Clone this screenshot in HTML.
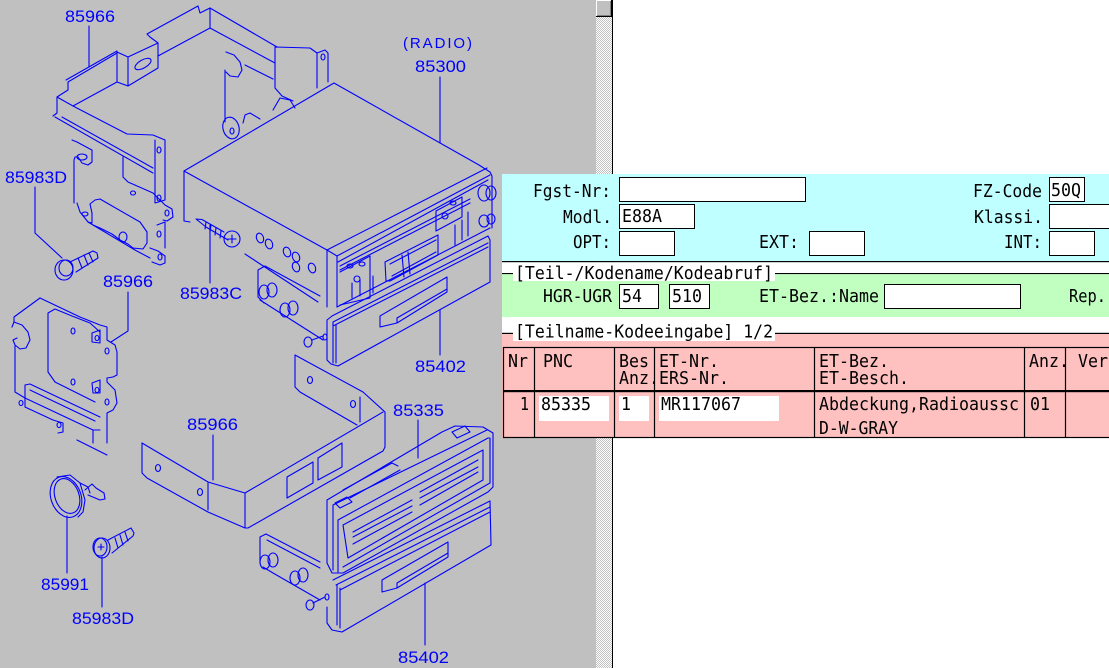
<!DOCTYPE html>
<html><head><meta charset="utf-8"><style>
html,body{margin:0;padding:0;background:#fff;}
body{width:1109px;height:668px;overflow:hidden;}
svg{display:block;}
.ft{font-family:"DejaVu Sans Mono","Liberation Mono",monospace;font-size:18px;fill:#000;}
.lb{font-family:"Liberation Sans",sans-serif;font-size:17px;fill:#00f;}
</style></head><body>
<svg width="1109" height="668" viewBox="0 0 1109 668" xmlns="http://www.w3.org/2000/svg">
<defs>
<pattern id="dith" width="2" height="2" patternUnits="userSpaceOnUse">
<rect width="2" height="2" fill="#fff"/><rect width="1" height="1" fill="#c0c0c0"/><rect x="1" y="1" width="1" height="1" fill="#c0c0c0"/>
</pattern>
</defs>
<rect x="0" y="0" width="1109" height="668" fill="#fff"/>
<rect x="0" y="0" width="596" height="668" fill="#c0c0c0"/>

<!-- DIAGRAM -->
<g fill="none" stroke="#00f" stroke-width="1.1" stroke-linejoin="round" stroke-linecap="round">
<!-- leaders -->
<path d="M89,26 L89,67"/>
<path d="M35,187 L35,233 L62,258"/>
<path d="M128,292 L128,331 L111,342"/>
<path d="M210,225 L210,283"/>
<path d="M440,310 L440,355"/>
<path d="M440,77 L440,143"/>
<path d="M213,435 L213,480"/>
<path d="M418,420 L418,458"/>
<path d="M425,583 L425,645"/>
<path d="M67,516 L67,573"/>
<path d="M102,557 L102,607"/>

<!-- top bracket 85966 -->
<path d="M53,116 L57,113 L57,97 L68,90 L68,82 L117,53"/>
<path d="M66,80 L117,51"/>
<path d="M57,97 L73,106 L117,82"/>
<path d="M117,52 L128,57 L158,43 M128,57 L128,86 M117,52 L117,82 L128,86 L158,68 L158,43 L150,37 L147,34 L198,6 L200,13 L210,8"/>
<ellipse cx="143" cy="64" rx="9" ry="4" transform="rotate(-30 143 64)"/>
<path d="M158,56 L210,28 M210,8 L210,28 M210,8 L277,47 M210,28 L275,63"/>
<path d="M55,117 L153,173 M62,117 L153,168"/>
<path d="M73,106 L127,134 L153,135 L165,140 M155,140 L155,203 L165,200 L165,140"/>
<ellipse cx="159" cy="150" rx="2" ry="3"/><ellipse cx="159" cy="198" rx="2" ry="3"/>
<path d="M72,140 L77,142 L90,149 L92,150 L92,162 L88,165 L82,163 L78,157 L75,157 L74,160 M74,160 L74,203"/>
<ellipse cx="82" cy="157" rx="5" ry="3"/>
<path d="M77,203 L80,212 L88,222 L92,223 L92,213 L90,204 L95,200 L100,199 L140,222 L147,232 L147,243 L143,249 L133,248 L128,244 L120,240 L112,234 L100,228 L93,225"/>
<ellipse cx="85" cy="214" rx="3" ry="2"/><ellipse cx="123" cy="237" rx="4" ry="5"/>
<path d="M88,222 L135,250 L150,258"/>
<path d="M150,248 L158,251 L165,256 L165,263 L160,265 L152,262"/><ellipse cx="160" cy="257" rx="2" ry="3"/>
<path d="M157,225 L165,222 L165,248"/><ellipse cx="159" cy="234" rx="2" ry="3"/>
<path d="M123,157 L123,177 L128,182 L153,193 L165,205 L172,209 L173,217 L167,221 L163,220"/>
<ellipse cx="133" cy="193" rx="2.5" ry="2"/><ellipse cx="167" cy="213" rx="2" ry="3"/>
<!-- right part of top bracket -->
<path d="M275,47 L275,88 L282,96 L293,101 M275,47 L310,48 L317,53 L325,50 L328,53 L328,82 M317,53 L317,88"/>
<ellipse cx="323" cy="57" rx="2" ry="3"/>
<path d="M225,70 L225,122 M226,52 L234,55 L240,62 L242,70 L238,77 L230,76 L226,72 M245,65 L273,79"/>
<ellipse cx="231" cy="128" rx="8" ry="11" transform="rotate(-15 231 128)"/><ellipse cx="232" cy="131" rx="2" ry="3"/>
<path d="M243,123 L245,115 L250,113 L260,119 M273,110 L280,98 L290,100 L295,108"/>

<!-- radio 85300 -->
<path d="M184,221 L184,171 L334,83 L479,165 L490,172 L492,176 L492,228"/>
<path d="M184,171 L327,250 L487,168 M327,250 L327,307 M245,254 L318,302 M184,221 L190,222"/>
<ellipse cx="260" cy="238" rx="3.5" ry="5" transform="rotate(-20 260 238)"/>
<ellipse cx="269" cy="244" rx="3.5" ry="5" transform="rotate(-20 269 244)"/>
<ellipse cx="287" cy="252" rx="3.5" ry="5" transform="rotate(-20 287 252)"/>
<ellipse cx="296" cy="257" rx="3.5" ry="5" transform="rotate(-20 296 257)"/>
<ellipse cx="296" cy="267" rx="3.5" ry="5" transform="rotate(-20 296 267)"/>
<ellipse cx="312" cy="268" rx="3.5" ry="5" transform="rotate(-20 312 268)"/>
<path d="M327,250 L337,256 L490,175 M337,256 L337,307 M338,262 L488,180 M340,266 L470,199 M340,270 L470,203"/>
<path d="M385,262 L438,235 L438,255 L390,281 L386,281 Z M390,264 L436,240 M392,276 L436,252"/>
<path d="M340,272 L370,256 L370,298 L340,305 M436,211 L462,197 L462,217 L436,231 Z M402,255 L404,277 M408,252 L410,274"/>
<ellipse cx="350" cy="266" rx="3" ry="2"/><ellipse cx="362" cy="264" rx="3" ry="2"/><ellipse cx="357" cy="279" rx="3" ry="3"/>
<ellipse cx="445" cy="216" rx="3" ry="3"/><ellipse cx="453" cy="203" rx="3" ry="2"/>
<path d="M360,280 L360,296 M373,276 L373,293 M352,283 L352,298 M455,225 L455,245 M462,220 L462,240 M468,212 L468,236"/>
<ellipse cx="484" cy="193" rx="6" ry="8"/><ellipse cx="491" cy="193" rx="5" ry="7"/>
<ellipse cx="484" cy="221" rx="5" ry="6"/><ellipse cx="491" cy="219" rx="4" ry="5"/>
<path d="M337,307 L490,228"/>
<!-- bezel upper 85402 -->
<path d="M332,316 L488,236 L490,240 L490,282 L338,366 L331,364 L327,360 L327,320 Z M333,322 L488,243 M333,326 L488,247 M333,322 L333,363 M336,325 L336,363"/>
<path d="M380,316 L447,277 L447,292 L397,323 L380,327 Z M397,318 L447,289 M397,318 L397,323"/>
<!-- connector bracket upper -->
<path d="M258,297 L258,270 L265,266 L320,296 M258,297 L264,303 M260,300 L323,340"/>
<ellipse cx="264" cy="292" rx="5" ry="7"/><ellipse cx="272" cy="290" rx="5" ry="7"/>
<ellipse cx="285" cy="310" rx="5" ry="7"/><ellipse cx="293" cy="308" rx="5" ry="7"/>
<ellipse cx="308" cy="342" rx="4" ry="5"/><path d="M312,340 L323,336"/><ellipse cx="325" cy="337" rx="2" ry="3"/>
<!-- screw 85983C -->
<path d="M196,219 L202,219.5 L224,232 M196,219 L206,227 L228,240 M206,222 L205,229 M211,225 L210,232 M216,228 L215,235 M221,231 L220,238"/>
<circle cx="232" cy="239" r="8"/><path d="M232,235 L232,243 M228,239 L236,239"/>
<!-- screw 85983D top -->
<ellipse cx="64" cy="270" rx="9" ry="10"/><ellipse cx="66" cy="268" rx="7" ry="8"/>
<path d="M70,262 L93,251 L97,253 L98,258 L76,272 M78,258 L82,268 M84,255 L88,265 M89,253 L93,262"/>

<!-- mid bracket 85966 -->
<path d="M40,298 L14,317 L14,322 L12,327 M14,322 L22,325 L28,332 L30,340 L26,348 L20,349 L15,345 L13,340 L17,338 M15,346 L15,392 L25,398 L25,407 L53,420 L63,423 L63,432 L58,433"/>
<path d="M40,298 L80,317 L100,325 L107,327 L107,340 L115,345 L117,352 L117,375 L113,377 L107,378 L107,382 L115,390 L117,403 L113,410 L107,413 L107,443"/>
<path d="M25,385 L30,384 L100,417 M25,385 L25,398 M25,398 L93,430 L100,430 M93,430 L93,443 M30,390 L95,421"/>
<path d="M48,313 L48,372 L55,382 L95,402 M48,313 L55,309 L72,316 L90,323 L100,332"/>
<path d="M92,333 L100,330 L100,343 L92,342 Z M92,383 L100,380 L100,393 L93,393 Z"/>
<ellipse cx="73" cy="331" rx="2" ry="3"/><ellipse cx="73" cy="382" rx="2" ry="3"/>
<ellipse cx="107" cy="351" rx="2" ry="3"/><ellipse cx="107" cy="402" rx="2" ry="3"/>
<ellipse cx="97" cy="338" rx="2" ry="2.5"/><ellipse cx="97" cy="390" rx="2" ry="2.5"/>
<ellipse cx="21" cy="403" rx="2" ry="2.5"/><ellipse cx="59" cy="425" rx="2" ry="2.5"/>
<path d="M77,440 L97,450 L107,455"/>

<!-- lower bracket 85966 -->
<path d="M142,443 L142,473 L147,478 L208,512 L245,528 L248,528 L383,451 L385,447 L385,412 L363,392 L295,355 L295,387 L300,392 L357,425"/>
<path d="M142,443 L208,482 L245,493 L245,528 M245,493 L383,412 M208,483 L208,510 M360,397 L360,422"/>
<ellipse cx="158" cy="468" rx="2.5" ry="3.5"/><ellipse cx="200" cy="492" rx="2.5" ry="3.5"/>
<ellipse cx="310" cy="380" rx="2.5" ry="3.5"/><ellipse cx="353" cy="404" rx="2.5" ry="3.5"/>
<path d="M287,477 L313,462 L313,483 L287,498 Z M318,458 L342,443 L342,467 L318,480 Z"/>

<!-- 85335 panel -->
<path d="M327,500 L442,432 L455,426 L483,427 L493,433 L493,487 L488,492 L343,573 L332,573 L327,563 Z"/>
<path d="M333,505 L487,430 M338,520 L488,438 L490,438 L490,483 L343,567 M338,520 L338,572 M343,525 L483,450 L483,480 L348,558 Z M333,505 L333,570"/>
<path d="M353,532 L412,500 M353,537 L412,506 M353,544 L412,512 M420,492 L478,460 M420,498 L478,467 M420,505 L478,472"/>
<path d="M343,490 L392,463 L398,466 M350,498 L400,470 M452,432 L465,426 L470,432 L457,438 Z M335,503 L347,497 L352,502 L340,508 Z"/>

<!-- lower bezel 85402 -->
<path d="M333,580 L490,501 L491,545 L342,632 L332,630 L327,623 L327,607 M337,585 L337,625 M340,588 L340,628 M336,585 L490,507 M340,590 L490,512"/>
<path d="M382,580 L448,542 L448,557 L397,588 L382,592 Z M397,583 L448,553 M397,583 L397,588"/>
<!-- lower connector bracket -->
<path d="M260,562 L260,537 L266,534 L320,562 M267,540 L320,568 M263,567 L273,573 L320,600"/>
<ellipse cx="265" cy="562" rx="5" ry="7"/><ellipse cx="273" cy="560" rx="5" ry="7"/>
<ellipse cx="295" cy="578" rx="5" ry="7"/><ellipse cx="303" cy="575" rx="5" ry="7"/>
<ellipse cx="310" cy="605" rx="4" ry="5"/><path d="M313,603 L325,597"/><ellipse cx="327" cy="597" rx="2" ry="3"/>

<!-- 85991 clip -->
<ellipse cx="66" cy="497" rx="15" ry="21" transform="rotate(-20 66 497)"/>
<ellipse cx="67" cy="496" rx="12" ry="18" transform="rotate(-20 67 496)"/>
<path d="M57,477 L70,475 L80,483 L88,487 L90,493 M80,483 L85,500 L83,512 L78,517 M85,490 L92,484 L96,488 L104,493 L105,499 L100,500 L88,495"/>
<!-- 85983D bottom -->
<ellipse cx="102" cy="548" rx="8" ry="10"/><ellipse cx="100" cy="547" rx="7" ry="9"/>
<path d="M108,540 L131,528 L134,533 L133,536 L112,553 M115,538 L118,548 M120,535 L123,545 M125,532 L128,541 M98,547 L104,547 M101,544 L101,550"/>
</g>

<!-- labels -->
<text class="lb" x="65" y="22" textLength="50" lengthAdjust="spacingAndGlyphs">85966</text>
<text class="lb" x="403" y="48" textLength="69" lengthAdjust="spacing" style="font-size:15px">(RADIO)</text>
<text class="lb" x="415" y="72" textLength="51" lengthAdjust="spacingAndGlyphs">85300</text>
<text class="lb" x="5" y="183" textLength="62" lengthAdjust="spacingAndGlyphs">85983D</text>
<text class="lb" x="180" y="299" textLength="62" lengthAdjust="spacingAndGlyphs">85983C</text>
<text class="lb" x="103" y="287" textLength="50" lengthAdjust="spacingAndGlyphs">85966</text>
<text class="lb" x="415" y="372" textLength="51" lengthAdjust="spacingAndGlyphs">85402</text>
<text class="lb" x="187" y="430" textLength="51" lengthAdjust="spacingAndGlyphs">85966</text>
<text class="lb" x="393" y="416" textLength="51" lengthAdjust="spacingAndGlyphs">85335</text>
<text class="lb" x="41" y="590" textLength="48" lengthAdjust="spacingAndGlyphs">85991</text>
<text class="lb" x="72" y="624" textLength="62" lengthAdjust="spacingAndGlyphs">85983D</text>
<text class="lb" x="398" y="663" textLength="51" lengthAdjust="spacingAndGlyphs">85402</text>

<!-- scrollbar -->
<rect x="596" y="0" width="16" height="668" fill="url(#dith)"/>
<rect x="596" y="0" width="16" height="17" fill="#000"/>
<rect x="596" y="0" width="15" height="16" fill="#fff"/>
<rect x="597" y="1" width="14" height="15" fill="#808080"/>
<rect x="597" y="1" width="13" height="14" fill="#c0c0c0"/>
<rect x="612" y="0" width="1" height="668" fill="#000"/>

<!-- FORM -->
<rect x="502" y="174" width="607" height="88" fill="#c0ffff"/>
<rect x="502" y="261" width="607" height="1.3" fill="#000"/>
<rect x="502" y="262.3" width="607" height="11" fill="#fff"/>
<rect x="502" y="273" width="607" height="1.2" fill="#000"/>
<rect x="502" y="274.2" width="607" height="42.8" fill="#c0ffc0"/>
<rect x="502" y="317" width="607" height="16" fill="#fff"/>
<rect x="502" y="332.8" width="607" height="1.2" fill="#000"/>
<rect x="502" y="334" width="607" height="104" fill="#ffc0c0"/>
<rect x="513" y="263" width="262" height="18" fill="#fff"/>
<rect x="513" y="317" width="262" height="24" fill="#fff"/>

<g fill="#fff" stroke="#000" stroke-width="1">
<rect x="619.5" y="177.5" width="186" height="24"/>
<rect x="1049.5" y="177.5" width="35" height="24"/>
<rect x="619.5" y="204.5" width="75" height="24"/>
<rect x="1049.5" y="204.5" width="70" height="24"/>
<rect x="619.5" y="231.5" width="55" height="24"/>
<rect x="809.5" y="231.5" width="55" height="24"/>
<rect x="1049.5" y="231.5" width="45" height="24"/>
<rect x="619.5" y="284.5" width="39" height="24"/>
<rect x="669.5" y="284.5" width="40" height="24"/>
<rect x="884.5" y="284.5" width="136" height="24"/>
</g>

<g class="ft">
<text x="533" y="197" textLength="78" lengthAdjust="spacingAndGlyphs">Fgst-Nr:</text>
<text x="973" y="197" textLength="69" lengthAdjust="spacingAndGlyphs">FZ-Code</text>
<text x="1051" y="196" textLength="30" lengthAdjust="spacingAndGlyphs">50Q</text>
<text x="563" y="223" textLength="49" lengthAdjust="spacingAndGlyphs">Modl.</text>
<text x="622" y="222" textLength="40" lengthAdjust="spacingAndGlyphs">E88A</text>
<text x="974" y="223" textLength="69" lengthAdjust="spacingAndGlyphs">Klassi.</text>
<text x="573" y="248" textLength="38" lengthAdjust="spacingAndGlyphs">OPT:</text>
<text x="759" y="248" textLength="40" lengthAdjust="spacingAndGlyphs">EXT:</text>
<text x="1004" y="248" textLength="38" lengthAdjust="spacingAndGlyphs">INT:</text>
<text x="515" y="279" textLength="258" lengthAdjust="spacingAndGlyphs">[Teil-/Kodename/Kodeabruf]</text>
<text x="543" y="302" textLength="69" lengthAdjust="spacingAndGlyphs">HGR-UGR</text>
<text x="622" y="302" textLength="20" lengthAdjust="spacingAndGlyphs">54</text>
<text x="672" y="302" textLength="30" lengthAdjust="spacingAndGlyphs">510</text>
<text x="759" y="302" textLength="120" lengthAdjust="spacingAndGlyphs">ET-Bez.:Name</text>
<text x="1069" y="302" textLength="37" lengthAdjust="spacingAndGlyphs">Rep.</text>
<text x="515" y="337.5" textLength="258" lengthAdjust="spacingAndGlyphs">[Teilname-Kodeeingabe] 1/2</text>
</g>

<!-- table -->
<rect x="503.5" y="347.5" width="620" height="90" fill="none" stroke="#000" stroke-width="1.2"/>
<g stroke="#000" stroke-width="1.2">
<line x1="534.5" y1="347.5" x2="534.5" y2="437.5"/>
<line x1="614.5" y1="347.5" x2="614.5" y2="437.5"/>
<line x1="654.5" y1="347.5" x2="654.5" y2="437.5"/>
<line x1="814.5" y1="347.5" x2="814.5" y2="437.5"/>
<line x1="1024.5" y1="347.5" x2="1024.5" y2="437.5"/>
<line x1="1065.5" y1="347.5" x2="1065.5" y2="437.5"/>
</g>
<rect x="503" y="390" width="606" height="2.2" fill="#000"/>
<g fill="#fff">
<rect x="539" y="396" width="70" height="25"/>
<rect x="619" y="396" width="30" height="25"/>
<rect x="659" y="396" width="120" height="25"/>
</g>
<g class="ft">
<text x="508" y="367" textLength="20" lengthAdjust="spacingAndGlyphs">Nr</text>
<text x="543" y="367" textLength="30" lengthAdjust="spacingAndGlyphs">PNC</text>
<text x="619" y="367" textLength="30" lengthAdjust="spacingAndGlyphs">Bes</text>
<text x="659" y="367" textLength="60" lengthAdjust="spacingAndGlyphs">ET-Nr.</text>
<text x="819" y="367" textLength="70" lengthAdjust="spacingAndGlyphs">ET-Bez.</text>
<text x="1029" y="367" textLength="40" lengthAdjust="spacingAndGlyphs">Anz.</text>
<text x="1078" y="367" textLength="30" lengthAdjust="spacingAndGlyphs">Ver</text>
<text x="619" y="384" textLength="40" lengthAdjust="spacingAndGlyphs">Anz.</text>
<text x="659" y="384" textLength="70" lengthAdjust="spacingAndGlyphs">ERS-Nr.</text>
<text x="819" y="384" textLength="90" lengthAdjust="spacingAndGlyphs">ET-Besch.</text>
<text x="520" y="410" textLength="9" lengthAdjust="spacingAndGlyphs">1</text>
<text x="541" y="410" textLength="50" lengthAdjust="spacingAndGlyphs">85335</text>
<text x="621" y="410" textLength="10" lengthAdjust="spacingAndGlyphs">1</text>
<text x="661" y="410" textLength="80" lengthAdjust="spacingAndGlyphs">MR117067</text>
<text x="819" y="410" textLength="200" lengthAdjust="spacingAndGlyphs">Abdeckung,Radioaussc</text>
<text x="1030" y="410" textLength="20" lengthAdjust="spacingAndGlyphs">01</text>
<text x="819" y="434" textLength="79" lengthAdjust="spacingAndGlyphs">D-W-GRAY</text>
</g>
</svg>
</body></html>
